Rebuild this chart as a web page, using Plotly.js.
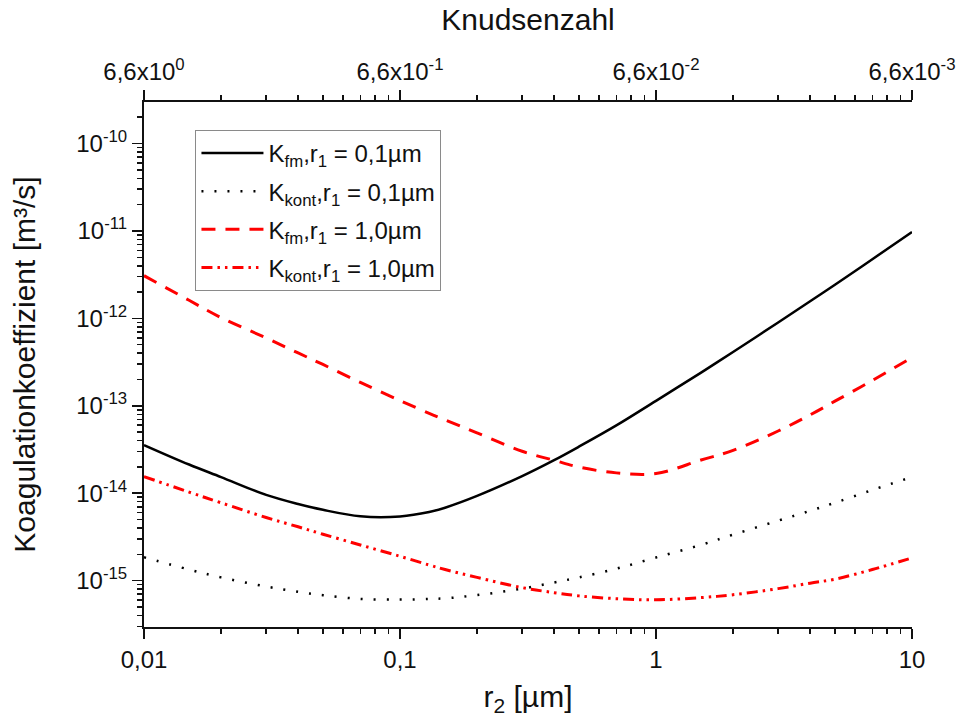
<!DOCTYPE html>
<html>
<head>
<meta charset="utf-8">
<script src="https://cdn.plot.ly/plotly-3.0.1.min.js"></script>
<style>html,body{margin:0;padding:0;background:#fff;}#chart{width:961px;height:727px;}</style>
</head>
<body>
<div id="chart"></div>
<script>
// r2 in µm
var r2 = [0.01,0.015,0.02,0.03,0.04,0.05,0.07,0.1,0.13,0.15,0.2,0.3,0.4,0.5,0.7,1,1.5,2,3,4,5,7,10];
// Koagulationkoeffizient [m³/s]
var kFm01   = [3.56e-14,2.13e-14,1.53e-14,9.57e-15,7.53e-15,6.46e-15,5.45e-15,5.43e-15,6.10e-15,6.83e-15,9.31e-15,1.57e-14,2.39e-14,3.41e-14,5.97e-14,1.14e-13,2.40e-13,4.13e-13,8.98e-13,1.57e-12,2.43e-12,4.75e-12,9.75e-12];
var kKont01 = [1.85e-15,1.34e-15,1.09e-15,8.57e-16,7.45e-16,6.81e-16,6.19e-16,6.07e-16,6.18e-16,6.28e-16,6.83e-16,8.11e-16,9.53e-16,1.09e-15,1.37e-15,1.84e-15,2.57e-15,3.36e-15,4.85e-15,6.30e-15,7.78e-15,1.09e-14,1.53e-14];
var kFm10   = [3.08e-12,1.61e-12,1.02e-12,5.97e-13,4.02e-13,2.97e-13,1.85e-13,1.15e-13,8.20e-14,6.90e-14,4.90e-14,3.02e-14,2.38e-14,1.99e-14,1.71e-14,1.68e-14,2.40e-14,3.09e-14,5.15e-14,7.88e-14,1.13e-13,1.95e-13,3.56e-13];
var kKont10 = [1.55e-14,1.03e-14,7.78e-15,5.28e-15,4.13e-15,3.40e-15,2.56e-15,1.90e-15,1.51e-15,1.34e-15,1.09e-15,8.32e-16,7.29e-16,6.70e-16,6.22e-16,6.04e-16,6.40e-16,6.90e-16,8.11e-16,9.36e-16,1.04e-15,1.34e-15,1.82e-15];

var seriesNames = [
  'K<sub>fm</sub>,r<sub>1</sub> = 0,1µm',
  'K<sub>kont</sub>,r<sub>1</sub> = 0,1µm',
  'K<sub>fm</sub>,r<sub>1</sub> = 1,0µm',
  'K<sub>kont</sub>,r<sub>1</sub> = 1,0µm'
];

// tick labels
var xTickVals = [0.01,0.1,1,10];
var xTickText = ['0,01','0,1','1','10'];
var knTickText = ['6,6x10<sup>0</sup>','6,6x10<sup>-1</sup>','6,6x10<sup>-2</sup>','6,6x10<sup>-3</sup>'];
var yTickVals = [1e-15,1e-14,1e-13,1e-12,1e-11,1e-10];
var yTickText = ['10<sup>-15</sup>','10<sup>-14</sup>','10<sup>-13</sup>','10<sup>-12</sup>','10<sup>-11</sup>','10<sup>-10</sup>'];

var minorX = [];
[0.01,0.1,1].forEach(function(d){ for (var m=2;m<=9;m++) minorX.push(d*m); });
var minorY = [];
[1e-16,1e-15,1e-14,1e-13,1e-12,1e-11,1e-10].forEach(function(d){ for (var m=2;m<=9;m++) minorY.push(d*m); });

var ink = '#111';
var fam = 'Liberation Sans, Arial, sans-serif';

var traces = [
  {x:r2, y:kFm01, name:seriesNames[0], mode:'lines', legendgroup:'a',
   line:{color:'#000', width:2.5, shape:'spline', smoothing:1}},
  {x:r2, y:kKont01, name:seriesNames[1], mode:'lines', legendgroup:'b',
   line:{color:'#000', width:2.5, dash:'2px,11px', shape:'spline', smoothing:1}},
  {x:r2, y:kFm10, name:seriesNames[2], mode:'lines', legendgroup:'c',
   line:{color:'#ff0000', width:3, dash:'14px,10px', shape:'spline', smoothing:1}},
  {x:r2, y:kKont10, name:seriesNames[3], mode:'lines', legendgroup:'d',
   line:{color:'#ff0000', width:3, dash:'11px,5px,2.5px,5px,2.5px,5px', shape:'spline', smoothing:1}},
  {x:r2, y:kFm01, xaxis:'x2', mode:'lines', showlegend:false, hoverinfo:'skip',
   line:{width:0}, opacity:0}
];

var axFont = {family:fam, size:24, color:ink};
var titleFont = {family:fam, size:30, color:ink};

var layout = {
  width:961, height:727,
  margin:{l:144, r:49, t:102, b:100, pad:0},
  paper_bgcolor:'#fff', plot_bgcolor:'#fff',
  font:{family:fam, size:24, color:ink},
  showlegend:true,
  legend:{x:0.067, y:0.947, xanchor:'left', yanchor:'top', bgcolor:'#fff',
          bordercolor:'#8a8a8a', borderwidth:1, font:{family:fam, size:24, color:ink},
          tracegroupgap:4, itemwidth:62, traceorder:'grouped'},
  xaxis:{type:'log', range:[-2,1], tickmode:'array', tickvals:xTickVals, ticktext:xTickText,
         ticks:'outside', ticklen:10, tickwidth:1.5, tickcolor:ink, tickfont:axFont,
         showline:true, linecolor:ink, linewidth:2, showgrid:false, zeroline:false,
         minor:{tickmode:'array', tickvals:minorX, ticks:'outside', ticklen:5, tickwidth:1.5, tickcolor:ink, showgrid:false},
         title:{text:'r<sub>2</sub> [µm]', font:titleFont, standoff:14}},
  xaxis2:{type:'log', range:[-2,1], overlaying:'x', side:'top', anchor:'y',
         tickmode:'array', tickvals:xTickVals, ticktext:knTickText,
         ticks:'outside', ticklen:10, tickwidth:1.5, tickcolor:ink, tickfont:axFont,
         showline:true, linecolor:ink, linewidth:2, showgrid:false, zeroline:false,
         minor:{tickmode:'array', tickvals:minorX, ticks:'outside', ticklen:5, tickwidth:1.5, tickcolor:ink, showgrid:false},
         title:{text:'Knudsenzahl', font:titleFont, standoff:16}},
  yaxis:{type:'log', range:[-15.53,-9.525], tickmode:'array', tickvals:yTickVals, ticktext:yTickText,
         ticks:'outside', ticklen:10, tickwidth:1.5, tickcolor:ink, tickfont:axFont,
         showline:true, linecolor:ink, linewidth:2, showgrid:false, zeroline:false,
         minor:{tickmode:'array', tickvals:minorY, ticks:'outside', ticklen:5, tickwidth:1.5, tickcolor:ink, showgrid:false},
         title:{text:'Koagulationkoeffizient [m³/s]', font:titleFont, standoff:32}}
};

Plotly.newPlot('chart', traces, layout, {displayModeBar:false, staticPlot:true});
</script>
</body>
</html>
